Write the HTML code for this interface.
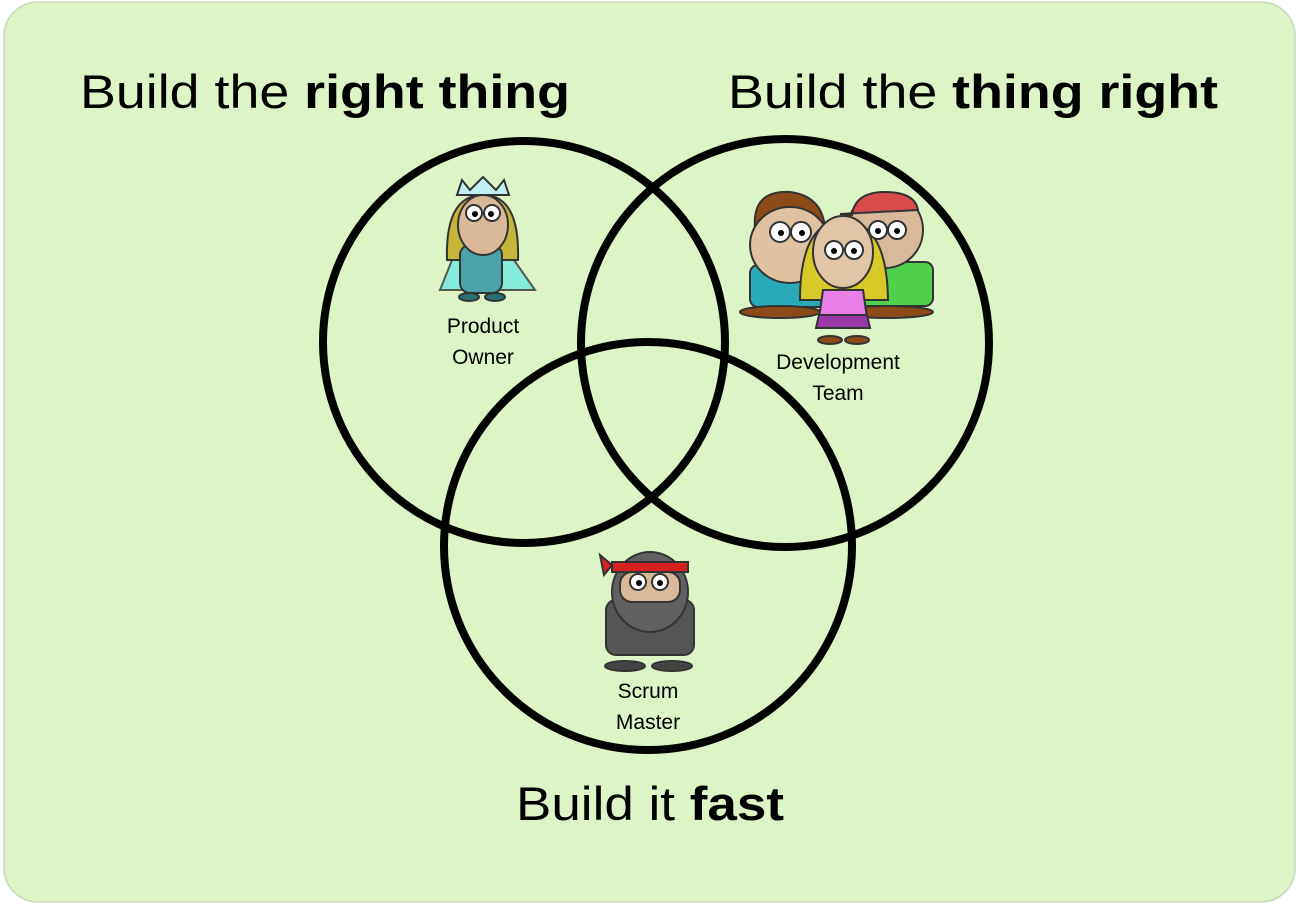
<!DOCTYPE html>
<html><head><meta charset="utf-8"><style>
html,body{margin:0;padding:0;background:#fff;width:1299px;height:907px;overflow:hidden}
svg{display:block}
text{font-family:"Liberation Sans",sans-serif;fill:#000}
</style></head><body>
<svg width="1299" height="907" viewBox="0 0 1299 907">
<rect x="4" y="2" width="1291" height="900" rx="34" fill="#dcf4c6" stroke="#c8d8bc" stroke-width="1.5"/>
<text x="80" y="108" font-size="47" textLength="490" lengthAdjust="spacingAndGlyphs">Build the <tspan font-weight="bold">right thing</tspan></text>
<text x="728" y="108" font-size="47" textLength="490" lengthAdjust="spacingAndGlyphs">Build the <tspan font-weight="bold">thing right</tspan></text>
<text x="516" y="820" font-size="47" textLength="268" lengthAdjust="spacingAndGlyphs">Build it <tspan font-weight="bold">fast</tspan></text>
<g fill="none" stroke="#000" stroke-width="8">
<circle cx="524" cy="342" r="201"/>
<circle cx="785" cy="343" r="204"/>
<circle cx="648" cy="546" r="204"/>
</g>
<!-- product owner -->
<g stroke="#333" stroke-width="2">
<path d="M440 290 L460 240 L500 240 L535 290 Z" fill="#6fe8e0" opacity="0.8"/>
<path d="M447 260 Q445 195 483 195 Q520 195 518 260 Z" fill="#c5b63a"/>
<rect x="460" y="245" width="42" height="48" rx="10" fill="#4aa3a8"/>
<ellipse cx="483" cy="225" rx="25" ry="30" fill="#d8b898"/>
<path d="M457 195 L462 180 L470 190 L483 177 L496 190 L504 180 L509 195 Z" fill="#bfeef3"/>
<circle cx="474" cy="213" r="8" fill="#fff"/><circle cx="492" cy="213" r="8" fill="#fff"/>
<ellipse cx="469" cy="297" rx="10" ry="4" fill="#2a6f73"/><ellipse cx="495" cy="297" rx="10" ry="4" fill="#2a6f73"/>
</g>
<circle cx="475" cy="214" r="3"/><circle cx="491" cy="214" r="3"/>
<!-- dev team -->
<g stroke="#333" stroke-width="2">
<rect x="845" y="262" width="88" height="44" rx="8" fill="#4fcf4a"/>
<ellipse cx="885" cy="230" rx="38" ry="38" fill="#d9b99a"/>
<path d="M852 215 Q855 192 885 192 Q915 192 918 210 L840 214 Z" fill="#d84c4c"/>
<ellipse cx="888" cy="312" rx="45" ry="6" fill="#8b4a18"/>
<rect x="750" y="265" width="90" height="42" rx="8" fill="#2aa9b8"/>
<path d="M755 228 Q752 190 790 192 Q822 196 825 228 Z" fill="#8b4a18"/>
<ellipse cx="790" cy="245" rx="40" ry="38" fill="#e0c2a2"/>
<ellipse cx="780" cy="312" rx="40" ry="6" fill="#8b4a18"/>
<path d="M800 300 Q800 222 843 220 Q887 222 888 300 Z" fill="#d8c828"/>
<ellipse cx="843" cy="252" rx="30" ry="36" fill="#e2c4a6"/>
<path d="M823 290 L863 290 L867 318 L819 318 Z" fill="#e880e8"/>
<path d="M819 315 L867 315 L870 328 L816 328 Z" fill="#9a38a8"/>
<ellipse cx="830" cy="340" rx="12" ry="4" fill="#8b4a18"/><ellipse cx="857" cy="340" rx="12" ry="4" fill="#8b4a18"/>
<circle cx="834" cy="250" r="9" fill="#fff"/><circle cx="854" cy="250" r="9" fill="#fff"/>
<circle cx="780" cy="232" r="10" fill="#fff"/><circle cx="801" cy="232" r="10" fill="#fff"/>
<circle cx="878" cy="230" r="9" fill="#fff"/><circle cx="897" cy="230" r="9" fill="#fff"/>
</g>
<!-- scrum master -->
<g stroke="#333" stroke-width="2">
<rect x="606" y="600" width="88" height="55" rx="10" fill="#555"/>
<ellipse cx="650" cy="592" rx="38" ry="40" fill="#606060"/>
<rect x="620" y="572" width="60" height="30" rx="12" fill="#d9b99a"/>
<rect x="612" y="562" width="76" height="10" fill="#d82020"/>
<path d="M612 565 L600 555 L604 575 Z" fill="#d82020"/>
<circle cx="638" cy="582" r="8" fill="#fff"/><circle cx="660" cy="582" r="8" fill="#fff"/>
<ellipse cx="625" cy="666" rx="20" ry="5" fill="#444"/><ellipse cx="672" cy="666" rx="20" ry="5" fill="#444"/>
</g>
<g fill="#000"><circle cx="834" cy="251" r="3"/><circle cx="854" cy="251" r="3"/><circle cx="781" cy="233" r="3"/><circle cx="802" cy="233" r="3"/><circle cx="878" cy="231" r="3"/><circle cx="897" cy="231" r="3"/><circle cx="639" cy="583" r="3"/><circle cx="660" cy="583" r="3"/></g>
<g font-size="21" text-anchor="middle">
<text x="483" y="333">Product</text><text x="483" y="364">Owner</text>
<text x="838" y="369">Development</text><text x="838" y="400">Team</text>
<text x="648" y="698">Scrum</text><text x="648" y="729">Master</text>
</g>
</svg>
</body></html>
